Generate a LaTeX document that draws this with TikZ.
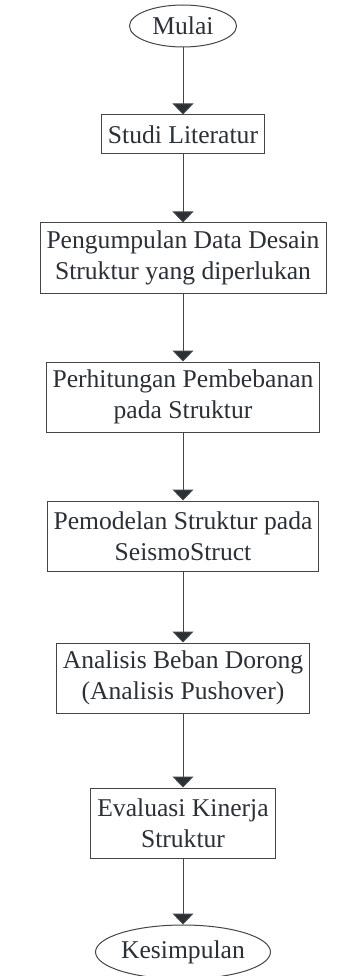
\documentclass[tikz,border=0pt]{standalone}
\usepackage{fontspec}
\setmainfont{Liberation Serif}
\usetikzlibrary{arrows.meta,positioning,shapes.geometric}
\definecolor{inkline}{HTML}{454545}
\definecolor{inktext}{HTML}{2B2F36}

\begin{document}
\begin{tikzpicture}[
  every node/.style={text=inktext},
  box/.style={draw=inkline, line width=1pt, align=center,
              font=\fontsize{25.6}{31}\selectfont,
              inner xsep=6.5pt, inner ysep=3pt, minimum height=39pt},
  tall/.style={box, minimum height=70pt},
  term/.style={ellipse, draw=inkline, line width=1pt, inner sep=0pt,
               font=\fontsize{25.6}{31}\selectfont},
  arr/.style={draw=inkline, line width=1pt,
              -{Triangle[width=21pt,length=11pt,fill=inktext]}}
]
\useasboundingbox (0,0) rectangle (343pt,-976pt);

\node[term, minimum width=107pt, minimum height=42pt] (mulai) at (183pt,-26pt) {Mulai};
\node[box,  below=67pt of mulai] (studi) {Studi Literatur};
\node[tall, below=68pt of studi] (data)  {Pengumpulan Data Desain\\Struktur yang diperlukan};
\node[tall, below=68pt of data]  (beban) {Perhitungan Pembebanan\\pada Struktur};
\node[tall, below=68pt of beban] (model) {Pemodelan Struktur pada\\SeismoStruct};
\node[tall, below=71pt of model] (push)  {Analisis Beban Dorong\\(Analisis Pushover)};
\node[tall, below=74pt of push]  (eval)  {Evaluasi Kinerja\\Struktur};
\node[term, minimum width=168pt, minimum height=54pt, below=66pt of eval] (akhir) {Kesimpulan};

\foreach \a/\b in {mulai/studi, studi/data, data/beban, beban/model,
                   model/push, push/eval, eval/akhir}
  \draw[arr] (\a) -- (\b);
\end{tikzpicture}
\end{document}
